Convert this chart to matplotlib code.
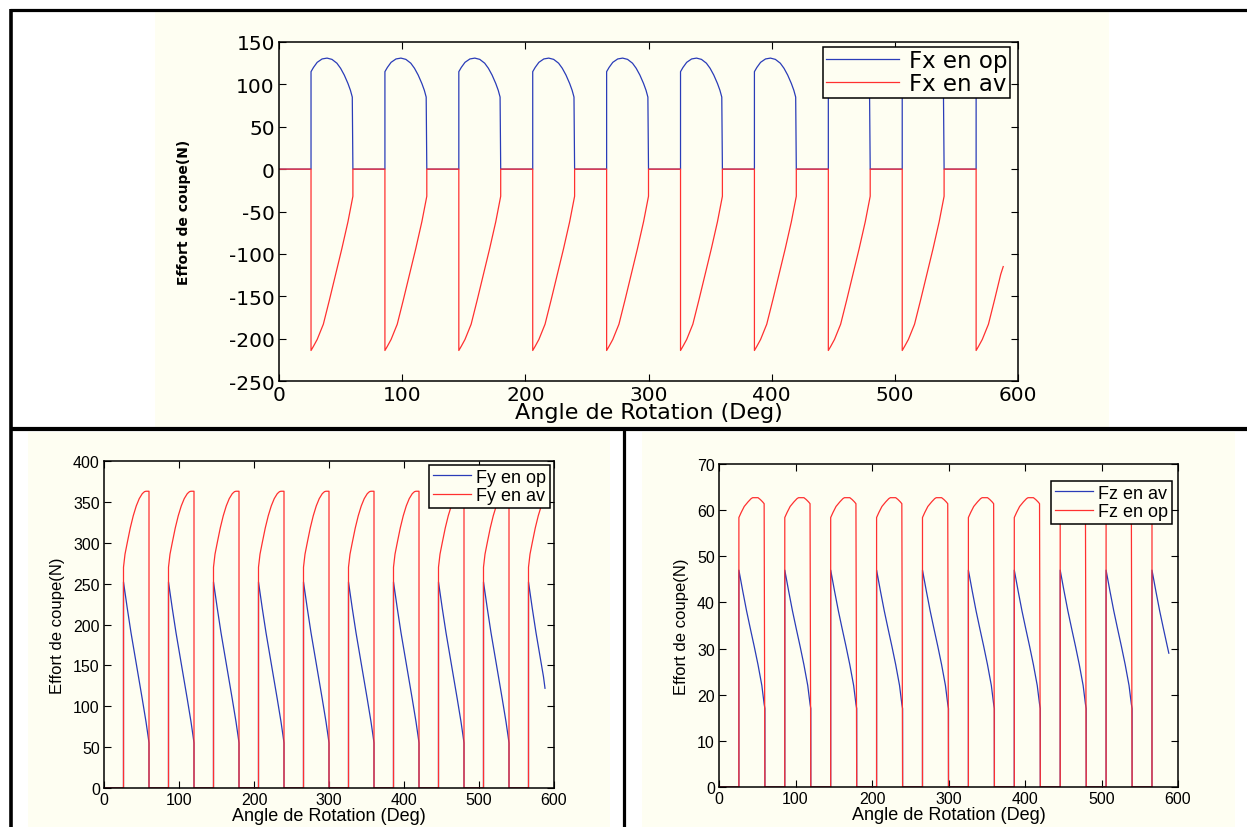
import numpy as np
import matplotlib
matplotlib.use("Agg")
import matplotlib.pyplot as plt
from matplotlib.patches import Rectangle
from matplotlib.lines import Line2D

plt.rcParams["axes.unicode_minus"] = False

# ---------------- data ----------------
angle_end = 588                       # last plotted angle (deg)
cycle_starts = [26, 86, 146, 206, 266, 326, 386, 446, 506, 566]   # start of each cutting window (deg)

# one cutting window: angle offset from window start (deg) -> force (N)
fx_op_offset = [0, 0, 2, 5, 9, 13, 17, 21, 24, 27, 30, 32, 33.5, 34]
fx_op_value = [0, 115, 120, 126, 130, 131, 129.5, 125, 119, 111, 101, 93, 85, 0]
fx_op_last = 121

fx_av_offset = [0, 0, 2, 5, 10, 15, 20, 25, 30, 34, 34]
fx_av_value = [0, -214, -209, -201, -183, -154, -124, -94, -62, -32, 0]
fx_av_last = -115

fy_op_offset = [0, 0, 5, 10, 15, 20, 25, 30, 33, 34, 34]
fy_op_value = [0, 252, 220, 190, 163, 136, 109, 81, 62, 55, 0]
fy_op_last = 122

fy_av_offset = [0, 0, 2, 5, 9, 13, 17, 21, 25, 28, 30, 34, 34]
fy_av_value = [0, 270, 286, 300, 318, 333, 345, 354, 360, 362.5, 363, 363, 0]
fy_av_last = 352

fz_av_offset = [0, 0, 5, 10, 15, 20, 25, 30, 33, 34, 34]
fz_av_value = [0, 47, 42.5, 38.2, 34.3, 30.5, 26.5, 22, 18, 17, 0]
fz_av_last = 29

fz_op_offset = [0, 0, 3, 7, 12, 16, 18, 25, 28, 31, 33, 34]
fz_op_value = [0, 58.4, 59.5, 60.8, 61.8, 62.5, 62.7, 62.7, 62.3, 61.8, 61.4, 0]
fz_op_last = 62.6

x_ticks = [0, 100, 200, 300, 400, 500, 600]
fx_ticks = [-250, -200, -150, -100, -50, 0, 50, 100, 150]
fy_ticks = [0, 50, 100, 150, 200, 250, 300, 350, 400]
fz_ticks = [0, 10, 20, 30, 40, 50, 60, 70]

x_label = "Angle de Rotation (Deg)"
y_label = "Effort de coupe(N)"


def build_series(offsets, values, last_value):
    xs, ys = [0.0], [0.0]
    for s in cycle_starts:
        for o, v in zip(offsets, values):
            if s + o < angle_end:
                xs.append(s + o)
                ys.append(v)
            else:
                xs.append(angle_end)
                ys.append(last_value)
                return np.array(xs), np.array(ys)
    xs.append(angle_end)
    ys.append(0.0)
    return np.array(xs), np.array(ys)


# ---------------- figure ----------------
W, H = 1247, 828
fig = plt.figure(figsize=(W / 100, H / 100), dpi=100)
fig.patch.set_facecolor("white")
CREAM = "#fefef2"
BLUE = "#2a3cb8"
RED = "#ff3030"


def fx(px):
    return px / W


def fy(py):
    return 1 - py / H


def rect(x0, y0, x1, y1):
    fig.add_artist(Rectangle((fx(x0), fy(y1)), fx(x1) - fx(x0), fy(y0) - fy(y1),
                             transform=fig.transFigure, facecolor=CREAM,
                             edgecolor="none", zorder=-10))


def hline(y, x0, x1, lw):
    fig.add_artist(Line2D([fx(x0), fx(x1)], [fy(y), fy(y)], transform=fig.transFigure,
                          color="black", lw=lw, solid_capstyle="butt", zorder=-5))


def vline(x, y0, y1, lw):
    fig.add_artist(Line2D([fx(x), fx(x)], [fy(y0), fy(y1)], transform=fig.transFigure,
                          color="black", lw=lw, solid_capstyle="butt", zorder=-5))


rect(155, 12, 1109, 428)
rect(28, 433, 610, 828)
rect(642, 433, 1235, 828)
hline(11, 10, 1247, 2.3)
hline(430, 10, 1247, 3.0)
vline(11, 10, 828, 2.6)
vline(624, 430, 828, 2.3)


def make_axes(l, t, r, b):
    ax = fig.add_axes([fx(l), fy(b), fx(r) - fx(l), fy(t) - fy(b)])
    ax.set_zorder(5)
    ax.set_facecolor(CREAM)
    for s in ax.spines.values():
        s.set_linewidth(1.1)
    ax.tick_params(direction="in", top=True, right=True, length=5, width=0.8)
    return ax


# ---- top: Fx ----
axt = make_axes(279, 43, 1018, 382)
x1, y1 = build_series(fx_op_offset, fx_op_value, fx_op_last)
x2, y2 = build_series(fx_av_offset, fx_av_value, fx_av_last)
axt.plot(x1, y1, color=BLUE, lw=0.9, label="Fx en op")
axt.plot(x2, y2, color=RED, lw=0.9, label="Fx en av")
axt.set_xlim(0, 600)
axt.set_ylim(-250, 150)
axt.set_xticks(x_ticks)
axt.set_yticks(fx_ticks)
axt.tick_params(labelsize=14.5, pad=3)
for lab in axt.get_xticklabels() + axt.get_yticklabels():
    lab.set_family("DejaVu Sans")
axt.set_xlabel(x_label, fontsize=16, family="DejaVu Sans")
axt.xaxis.set_label_coords(0.5, (382 - 403) / 339)
axt.set_ylabel(y_label, fontsize=10, family="DejaVu Sans", weight="bold")
axt.yaxis.set_label_coords((191 - 279) / 739, 0.5)
leg = axt.legend(loc="upper right", bbox_to_anchor=(fx(1010), fy(48)),
                 bbox_transform=fig.transFigure, borderaxespad=0,
                 prop={"family": "DejaVu Sans", "size": 16.5}, fancybox=False,
                 handlelength=3.2, handletextpad=0.45, borderpad=0.1,
                 labelspacing=0.0, facecolor=CREAM, framealpha=1, edgecolor="black")
leg.get_frame().set_linewidth(1.1)

# ---- bottom-left: Fy ----
axl = make_axes(104, 462, 554, 789)
x3, y3 = build_series(fy_op_offset, fy_op_value, fy_op_last)
x4, y4 = build_series(fy_av_offset, fy_av_value, fy_av_last)
axl.plot(x3, y3, color=BLUE, lw=0.9, label="Fy en op")
axl.plot(x4, y4, color=RED, lw=0.9, label="Fy en av")
axl.set_xlim(0, 600)
axl.set_ylim(0, 400)
axl.set_xticks(x_ticks)
axl.set_yticks(fy_ticks)

# ---- bottom-right: Fz ----
axr = make_axes(719, 465, 1178, 788)
x5, y5 = build_series(fz_av_offset, fz_av_value, fz_av_last)
x6, y6 = build_series(fz_op_offset, fz_op_value, fz_op_last)
axr.plot(x5, y5, color=BLUE, lw=0.9, label="Fz en av")
axr.plot(x6, y6, color=RED, lw=0.9, label="Fz en op")
axr.set_xlim(0, 600)
axr.set_ylim(0, 70)
axr.set_xticks(x_ticks)
axr.set_yticks(fz_ticks)

for ax, (lx, ly) in ((axl, (550, 466)), (axr, (1172, 482))):
    ax.tick_params(labelsize=11.5, pad=3)
    for lab in ax.get_xticklabels() + ax.get_yticklabels():
        lab.set_family("Liberation Sans")
    ax.set_xlabel(x_label, fontsize=13, family="Liberation Sans", labelpad=0)
    ax.set_ylabel(y_label, fontsize=12, family="Liberation Sans", labelpad=6)
    lg = ax.legend(loc="upper right", bbox_to_anchor=(fx(lx), fy(ly)),
                   bbox_transform=fig.transFigure, borderaxespad=0,
                   prop={"family": "Liberation Sans", "size": 13}, fancybox=False,
                   handlelength=2.1, handletextpad=0.3, borderpad=0.2,
                   labelspacing=0.1, facecolor=CREAM, framealpha=1, edgecolor="black")
    lg.get_frame().set_linewidth(1.1)

fig.savefig("out.png", dpi=100, facecolor="white")
